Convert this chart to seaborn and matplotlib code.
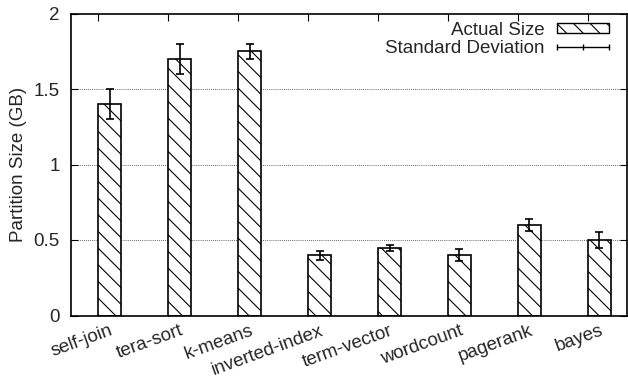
import numpy as np
import pandas as pd
import matplotlib
matplotlib.use("Agg")
import matplotlib.pyplot as plt
from matplotlib.lines import Line2D
from matplotlib.patches import Patch
from matplotlib.legend_handler import HandlerLine2D
import seaborn as sns

# Partition sizes per workload
workloads = ["self-join", "tera-sort", "k-means", "inverted-index",
             "term-vector", "wordcount", "pagerank", "bayes"]
sizes_gb = [1.4, 1.7, 1.75, 0.4, 0.45, 0.4, 0.6, 0.5]
std_gb = [0.1, 0.1, 0.05, 0.03, 0.02, 0.04, 0.04, 0.05]
y_ticks = [0, 0.5, 1, 1.5, 2]
y_tick_labels = ["0", "0.5", "1", "1.5", "2"]

df = pd.DataFrame({"workload": workloads, "size": sizes_gb, "std": std_gb})

sns.set_theme(style="white")
plt.rcParams["font.family"] = ["Liberation Sans", "DejaVu Sans"]
plt.rcParams["hatch.linewidth"] = 0.8
plt.rcParams["hatch.color"] = "black"

FS = 13.5

fig = plt.figure(figsize=(6.28, 3.78), dpi=100)
ax = fig.add_axes([70.7 / 628, 1 - 315.5 / 378, (627.5 - 70.7) / 628, (315.5 - 13.5) / 378])

bar_w = 0.336
sns.barplot(data=df, x="workload", y="size", color="white", edgecolor="black",
            linewidth=1.2, width=bar_w, errorbar=None, saturation=1, ax=ax)
for p in ax.patches:
    p.set_hatch("\\\\")
    p.set_facecolor("white")

pos = np.arange(len(workloads))
ax.errorbar(pos, df["size"], yerr=df["std"], fmt="none", ecolor="black",
            elinewidth=1.2, capsize=3, capthick=1.2, zorder=5)

# axes limits and ticks
ax.set_xlim(-0.39 - bar_w / 2, 7.57 - bar_w / 2)
ax.set_ylim(0, 2)
ax.set_yticks(y_ticks)
ax.set_yticklabels(y_tick_labels, fontsize=FS)
ax.set_xticks(pos)
ax.set_xticklabels(workloads, fontsize=FS, rotation=20, ha="right",
                   va="top", rotation_mode="anchor")
ax.tick_params(axis="x", which="major", length=0, pad=5)
ax.set_xticks(pos - bar_w / 2, minor=True)
ax.tick_params(axis="x", which="minor", direction="in", length=5, width=0.8,
               top=True, bottom=True, color="black")
ax.tick_params(axis="y", direction="in", length=5, width=0.8, left=True,
               right=True, pad=8, color="black")
ax.set_ylabel("Partition Size (GB)", fontsize=FS)
ax.yaxis.set_label_coords(-0.078, 0.5)
ax.set_xlabel("")

for y in [0.5, 1, 1.5]:
    ax.axhline(y, color="#333333", linestyle=(0, (1, 1.5)), linewidth=0.6, zorder=0)

for s in ax.spines.values():
    s.set_color("black")
    s.set_linewidth(1.2)
    s.set_visible(True)

# legend: hatched box and a horizontal errorbar glyph
bar_handle = Patch(facecolor="white", edgecolor="black", hatch="\\\\", linewidth=1.0)
err_handle = Line2D([], [], color="black", linewidth=1.0, marker="|",
                    markersize=5, markeredgewidth=1.0)
leg = ax.legend([bar_handle, err_handle], ["Actual Size", "Standard Deviation"],
                loc="upper right", bbox_to_anchor=(0.967, 0.972),
                frameon=False, markerfirst=False,
                fontsize=FS, handlelength=2.8, handleheight=0.45,
                handletextpad=0.65, labelspacing=0.05, borderaxespad=0,
                borderpad=0,
                handler_map={err_handle: HandlerLine2D(numpoints=3, marker_pad=0)})

fig.savefig("out.png", dpi=100)
